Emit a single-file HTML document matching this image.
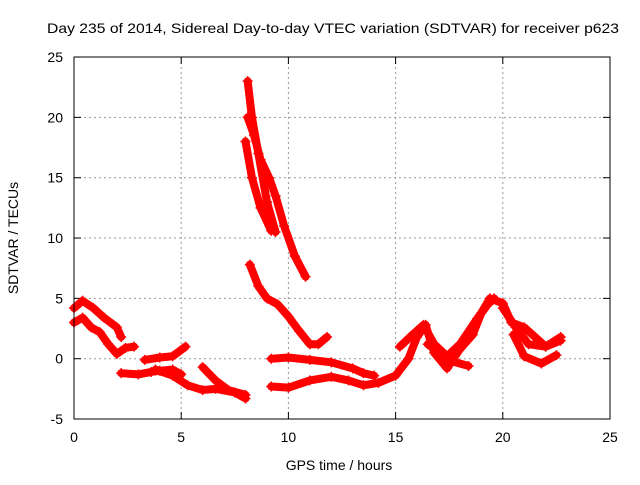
<!DOCTYPE html>
<html><head><meta charset="utf-8"><style>
body{margin:0;background:#fff}
svg text{font-family:"Liberation Sans",sans-serif;font-size:14px;fill:#000}
</style></head><body>
<svg id="chart" width="640" height="480">
<rect width="640" height="480" fill="#fff"/>
<text x="47" y="33" textLength="572" lengthAdjust="spacingAndGlyphs">Day 235 of 2014, Sidereal Day-to-day VTEC variation (SDTVAR) for receiver p623</text>
<text x="339" y="470" text-anchor="middle">GPS time / hours</text>
<text transform="translate(18,238) rotate(-90)" text-anchor="middle">SDTVAR / TECUs</text>
<g id="grid"></g><g id="series"></g>
<rect x="74" y="57" width="536" height="362" fill="none" stroke="#000" stroke-width="1"/>
</svg>
<script>
const xTicks=[0,5,10,15,20,25];
const yTicks=[-5,0,5,10,15,20,25];
const sA=[[0,4.2],[0.4,4.8],[0.9,4.2],[1.4,3.4],[2.0,2.6],[2.2,1.8]];
const sB=[[0,3.0],[0.4,3.4],[0.8,2.6],[1.2,2.2],[1.6,1.2],[2.0,0.4],[2.4,0.9],[2.8,1.0]];
const sC=[[3.3,-0.1],[4.0,0.1],[4.6,0.2],[5.2,1.0]];
const sD=[[2.2,-1.2],[3,-1.3],[3.6,-1.1],[4,-1.0],[4.6,-0.9],[5,-1.3]];
const sE=[[3.8,-0.9],[4.6,-1.4],[5.3,-2.2],[6.0,-2.6],[6.6,-2.5],[7.5,-2.8],[8.0,-3.3]];
const sF=[[6.0,-0.7],[6.6,-1.8],[7.2,-2.6],[8.0,-3.0]];
const sG1=[[8.1,23],[8.3,20],[8.6,17],[9.0,13],[9.4,10.5]];
const sG2=[[8.1,20],[8.4,18.5],[8.7,16.5],[9.1,15],[9.4,13.5],[9.8,11],[10.3,8.5],[10.8,6.8]];
const sG3=[[8.0,18],[8.3,15],[8.7,12.5],[9.2,10.6]];
const sH=[[8.2,7.8],[8.6,6],[9,5],[9.5,4.5],[10,3.5],[10.5,2.3],[11,1.2],[11.4,1.2],[11.8,1.8]];
const sI=[[9.2,0],[10,0.1],[11,-0.1],[12,-0.3],[13,-0.8],[13.5,-1.2],[14,-1.4]];
const sJ=[[9.2,-2.3],[10,-2.4],[11,-1.8],[12,-1.5],[12.8,-1.8],[13.5,-2.2],[14.2,-2.0],[15,-1.4],[15.6,0],[16,1.8],[16.4,2.8],[16.8,0.5],[17.4,-0.8],[18,0.8],[18.6,2],[19,3.8],[19.4,5],[20,4.6],[20.4,3],[21,2.6],[21.5,1.8],[22,1.0],[22.7,1.5]];
const sK=[[15.2,1.0],[15.8,2.0],[16.3,2.8],[16.8,1.2],[17.4,0.2],[18,1.2],[18.8,3.3],[19.3,4.5],[19.6,5.0]];
const sL=[[20,4.2],[20.6,2.6],[21.2,1.2],[22,1.0],[22.7,1.8]];
const sM=[[20.5,2.0],[21,0.2],[21.8,-0.4],[22.5,0.3]];
const sN=[[16.5,1.2],[17,0.6],[17.6,-0.2],[18.4,-0.6]];
const allSeries=[sA,sB,sC,sD,sE,sF,sG1,sG2,sG3,sH,sI,sJ,sK,sL,sM,sN];
const X=t=>74+t*536/25, Y=v=>358.7-v*362/30;
const NS='http://www.w3.org/2000/svg';
const grid=document.getElementById('grid'), ser=document.getElementById('series'), svg=document.getElementById('chart');
function mk(tag,attrs,parent){const e=document.createElementNS(NS,tag);for(const k in attrs)e.setAttribute(k,attrs[k]);parent.appendChild(e);return e;}
xTicks.forEach(t=>{const x=X(t);
 if(t>0&&t<25){const l=mk('line',{x1:x,x2:x,y1:57,y2:419,stroke:'#999','stroke-dasharray':'2,3'},grid);
 
 }
 mk('line',{x1:x,x2:x,y1:419,y2:412,stroke:'#000'},grid);mk('line',{x1:x,x2:x,y1:57,y2:64,stroke:'#000'},grid);
 const tx=mk('text',{x:x,y:442,'text-anchor':'middle'},svg);tx.textContent=t;
 
 });
yTicks.forEach(v=>{const y=Y(v);
 if(v>-5&&v<25){const l=mk('line',{x1:74,x2:610,y1:y,y2:y,stroke:'#999','stroke-dasharray':'2,3'},grid);
 
 }
 mk('line',{x1:74,x2:81,y1:y,y2:y,stroke:'#000'},grid);mk('line',{x1:610,x2:603,y1:y,y2:y,stroke:'#000'},grid);
 const tx=mk('text',{x:63,y:y+5,'text-anchor':'end'},svg);tx.textContent=v;
 
 });
allSeries.forEach((s,i)=>{
 const p=mk('polyline',{points:s.map(d=>X(d[0])+','+Y(d[1])).join(' '),fill:'none',stroke:'#f00','stroke-width':8,'stroke-linejoin':'round','stroke-linecap':'round'},ser);
 
 
 s.forEach(d=>{const x=X(d[0]),y=Y(d[1]);
  const m=mk('path',{d:`M${x-5},${y}H${x+5}M${x},${y-5}V${y+5}`,stroke:'#f00','stroke-width':1.5},ser);
  
  });
});
</script>
</body></html>
